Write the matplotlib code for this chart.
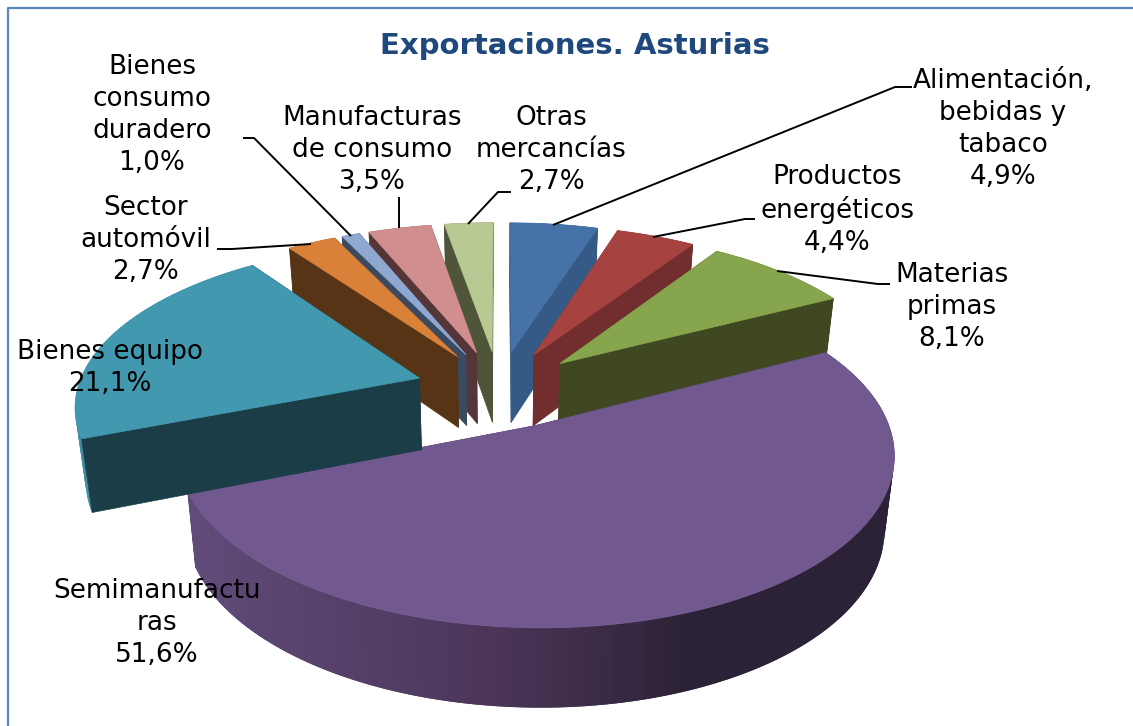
import numpy as np
import matplotlib
matplotlib.use('Agg')
from matplotlib import pyplot as plt
from matplotlib.patches import Polygon

# slices go clockwise from 12 o'clock
names = ['Alimentación,\nbebidas y\ntabaco', 'Productos\nenergéticos', 'Materias\nprimas',
         'Semimanufactu\nras', 'Bienes equipo', 'Sector\nautomóvil',
         'Bienes\nconsumo\nduradero', 'Manufacturas\nde consumo', 'Otras\nmercancías']
values = [4.9, 4.4, 8.1, 51.6, 21.1, 2.7, 1.0, 3.5, 2.7]
top_colors = ['#4672a8', '#a64340', '#87a54c', '#71588f', '#4198af', '#d98139', '#8fa8d0', '#d08f8e', '#b8c993']
wall_colors = ['#345a85', '#722e2e', '#3f4820', '#4a3558', '#1a3d48', '#573416', '#3a4a60', '#553538', '#4e5539']
label_x = [1003, 837, 952, 157, 110, 146, 152, 372, 551]
label_y = [129, 210, 307, 623, 368, 240, 115, 150, 150]
draw_order = [8, 7, 6, 5, 0, 1, 2, 3, 4]

leaders = [[(912, 87), (895, 87), (553, 225)],
           [(755, 219), (745, 219), (653, 237)],
           [(890, 284), (878, 284), (777, 271)],
           [(217, 249), (232, 249), (311, 244)],
           [(243, 138), (254, 138), (351, 236)],
           [(399, 197), (399, 228)],
           [(511, 192), (498, 192), (468, 224)]]

# projection of the pie plane
cx, cy = 499, 389
a, b = 342, 159
k = 0.152
explode = 0.245
height = 72
shrink = 0.975


def project(X, Y, low=False):
    s = 1 / (1 - k * Y)
    px = cx + a * X * s
    py = cy + b * Y * s
    if low:
        px = cx + (px - cx) * shrink
        py = py + height * s**0.5
    return px, py


fig = plt.figure(figsize=(11.33, 7.26), dpi=100)
ax = fig.add_axes([0, 0, 1, 1])
ax.set_xlim(0, 1133)
ax.set_ylim(726, 0)
ax.axis('off')

# chart border
ax.plot([7.5, 7.5, 1133], [726, 7.5, 7.5], color='#5b88c4', lw=1.6, zorder=1)

fractions = np.array(values) / sum(values)
ends = np.cumsum(fractions) * 2 * np.pi
starts = ends - fractions * 2 * np.pi

z = 2
for i in draw_order:
    mid = (starts[i] + ends[i]) / 2
    ox, oy = explode * np.sin(mid), -explode * np.cos(mid)
    t = np.linspace(starts[i], ends[i], 160)
    X = ox + np.sin(t)
    Y = oy - np.cos(t)
    tx, ty = project(X, Y)
    lx, ly = project(X, Y, low=True)
    ax0, ay0 = project(ox, oy)
    bx0, by0 = project(ox, oy, low=True)
    big = names[i].startswith('Semi')

    # radial walls: under the outer wall on the big slice, over it on the others
    for j in [0, -1]:
        ax.add_patch(Polygon([(ax0, ay0), (tx[j], ty[j]), (lx[j], ly[j]), (bx0, by0)],
                             fc=wall_colors[i], ec=wall_colors[i], lw=0.5,
                             zorder=z if big else z + 2))
    # outer wall, shaded along x for the big slice; quads overlap to hide seams
    for j in range(len(t) - 1):
        e = min(j + 2, len(t) - 1)
        if big:
            mx = (tx[j] + tx[j + 1]) / 2
            col = (np.interp(mx, [190, 500, 690], [96, 74, 44]) / 255,
                   np.interp(mx, [190, 500, 690], [75, 53, 34]) / 255,
                   np.interp(mx, [190, 500, 690], [122, 88, 55]) / 255)
        elif names[i].startswith('Bienes equipo'):
            col = '#3d8ba0'
        else:
            col = wall_colors[i]
        ax.add_patch(Polygon([(tx[j], ty[j]), (tx[e], ty[e]), (lx[e], ly[e]), (lx[j], ly[j])],
                             fc=col, ec='none', zorder=z + 1))
    # top face
    ax.add_patch(Polygon(np.column_stack([np.r_[ax0, tx], np.r_[ay0, ty]]),
                         fc=top_colors[i], ec=top_colors[i], lw=0.5, zorder=z + 3))
    z += 4

for line in leaders:
    pts = np.array(line)
    ax.plot(pts[:, 0], pts[:, 1], color='black', lw=1.4, zorder=z, solid_capstyle='butt')

for i in range(len(names)):
    pct = ('%.1f%%' % values[i]).replace('.', ',')
    ax.text(label_x[i], label_y[i], names[i] + '\n' + pct, ha='center', va='center', ma='center',
            fontsize=18.9, linespacing=1.3, color='black', zorder=z + 1, family='DejaVu Sans')

ax.text(575, 46, 'Exportaciones. Asturias', ha='center', va='center', fontsize=21,
        fontweight='bold', color='#1f497d', zorder=z + 1, family='DejaVu Sans')

fig.savefig('out.png', dpi=100)
